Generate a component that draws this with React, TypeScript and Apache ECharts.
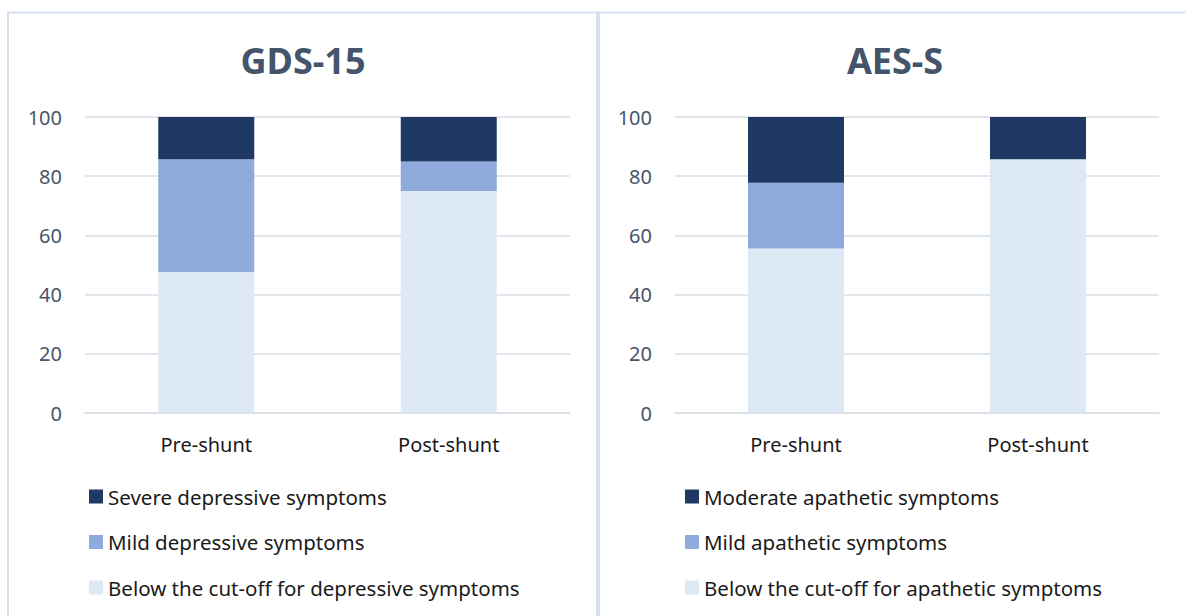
import React, { useEffect, useRef } from "react";
import * as echarts from "echarts";

const categories = ["Pre-shunt", "Post-shunt"];
const yTicks = [0, 20, 40, 60, 80, 100];

const gdsTitle = "GDS-15";
const gdsNames = [
  "Below the cut-off for depressive symptoms",
  "Mild depressive symptoms",
  "Severe depressive symptoms",
];
const gdsBelow = [47.6, 75.0];
const gdsMild = [38.1, 10.0];
const gdsSevere = [14.3, 15.0];

const aesTitle = "AES-S";
const aesNames = [
  "Below the cut-off for apathetic symptoms",
  "Mild apathetic symptoms",
  "Moderate apathetic symptoms",
];
const aesBelow = [55.6, 85.7];
const aesMild = [22.2, 0];
const aesModerate = [22.2, 14.3];

const colors = ["#dee9f6", "#8faadc", "#203864"];
const FONT = "Noto Sans";

export default function App() {
  const ref = useRef<HTMLDivElement>(null);
  useEffect(() => {
    if (!ref.current) return;
    const chart = echarts.init(ref.current, null, { renderer: "svg" });

    const xAxisBase = (gridIndex: number) => ({
      type: "category",
      gridIndex,
      data: categories,
      axisTick: { show: false },
      axisLine: { lineStyle: { color: "#d9dde3", width: 1.5 } },
      axisLabel: { fontFamily: FONT, fontSize: 20, color: "#1a1a1a", margin: 21 },
    });
    const yAxisBase = (gridIndex: number) => ({
      type: "value",
      gridIndex,
      min: yTicks[0],
      max: yTicks[yTicks.length - 1],
      interval: yTicks[1] - yTicks[0],
      axisLine: { show: false },
      axisTick: { show: false },
      splitLine: { lineStyle: { color: "#d9dde3", width: 1.5 } },
      axisLabel: { fontFamily: FONT, fontSize: 20, color: "#475569", margin: 23 },
    });

    const mk = (name: string, data: number[], idx: number, color: string, stack: string) => ({
      name,
      type: "bar",
      stack,
      xAxisIndex: idx,
      yAxisIndex: idx,
      data,
      barWidth: 96,
      itemStyle: { color },
    });

    const legendBase = (left: number, names: string[]) => ({
      orient: "vertical",
      left,
      top: 486,
      padding: 0,
      icon: "rect",
      itemWidth: 14,
      itemHeight: 14,
      itemGap: 24.5,
      data: [...names].reverse(),
      selectedMode: false,
      textStyle: { fontFamily: FONT, fontSize: 20.5, color: "#1a1a1a", lineHeight: 20 },
    });

    chart.setOption({
      animation: false,
      backgroundColor: "#ffffff",
      grid: [
        { left: 85, top: 117, width: 485, height: 296 },
        { left: 675, top: 117, width: 484, height: 296 },
      ],
      xAxis: [xAxisBase(0), xAxisBase(1)],
      yAxis: [yAxisBase(0), yAxisBase(1)],
      legend: [legendBase(89, gdsNames), legendBase(685, aesNames)],
      series: [
        mk(gdsNames[0], gdsBelow, 0, colors[0], "g"),
        mk(gdsNames[1], gdsMild, 0, colors[1], "g"),
        mk(gdsNames[2], gdsSevere, 0, colors[2], "g"),
        mk(aesNames[0], aesBelow, 1, colors[0], "a"),
        mk(aesNames[1], aesMild, 1, colors[1], "a"),
        mk(aesNames[2], aesModerate, 1, colors[2], "a"),
      ],
      graphic: [
        {
          type: "rect",
          shape: { x: 8, y: 12.5, width: 589, height: 700 },
          style: { fill: "none", stroke: "#d6e0f0", lineWidth: 2 },
          silent: true,
        },
        {
          type: "rect",
          shape: { x: 599, y: 12.5, width: 700, height: 700 },
          style: { fill: "none", stroke: "#d6e0f0", lineWidth: 2 },
          silent: true,
        },
        {
          type: "text",
          x: 303,
          y: 60,
          style: {
            text: gdsTitle,
            textAlign: "center",
            textVerticalAlign: "middle",
            fontFamily: FONT,
            fontSize: 36,
            fontWeight: "bold",
            fill: "#44546a",
          },
        },
        {
          type: "text",
          x: 895,
          y: 60,
          style: {
            text: aesTitle,
            textAlign: "center",
            textVerticalAlign: "middle",
            fontFamily: FONT,
            fontSize: 36,
            fontWeight: "bold",
            fill: "#44546a",
          },
        },
      ],
    });
    return () => chart.dispose();
  }, []);

  return (
    <div
      ref={ref}
      style={{ position: "absolute", left: 0, top: 0, width: 1185, height: 616 }}
    />
  );
}
